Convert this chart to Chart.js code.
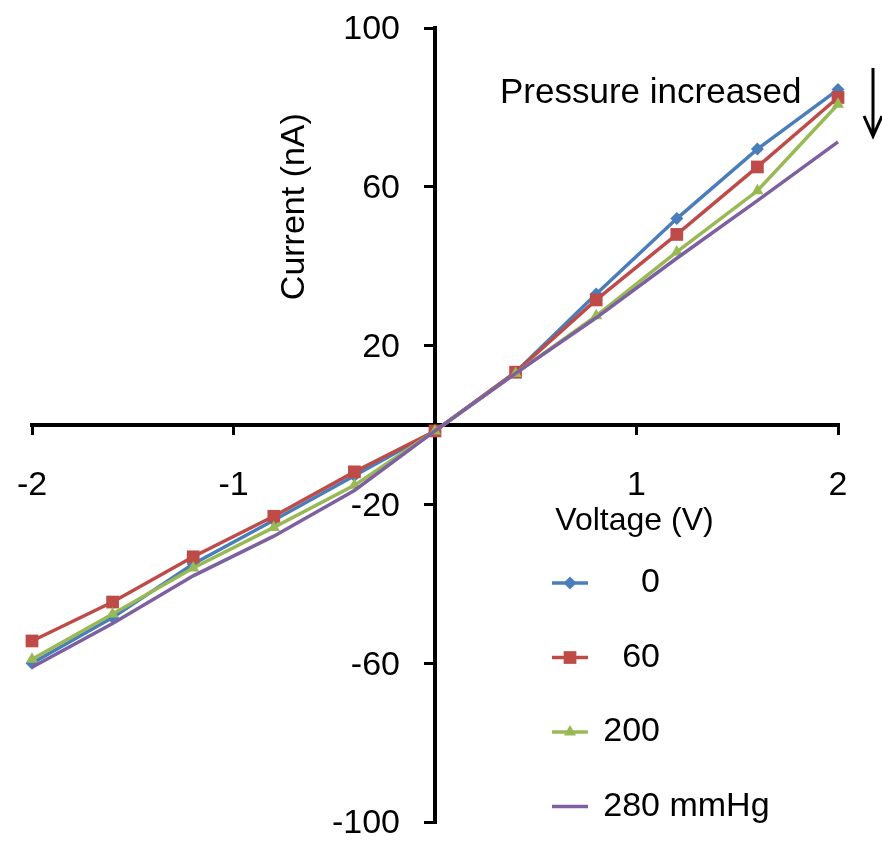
<!DOCTYPE html>
<html>
<head>
<meta charset="utf-8">
<script src="https://cdn.jsdelivr.net/npm/chart.js@4/dist/chart.umd.min.js"></script>
<style>
  html, body { margin: 0; padding: 0; background: #fff; }
  #wrap { width: 882px; height: 841px; }
</style>
</head>
<body>
<div id="wrap"><canvas id="ivChart"></canvas></div>
<script>
// voltage sweep (V) and measured current (nA) for each pressure
const voltages = [-2, -1.6, -1.2, -0.8, -0.4, 0, 0.4, 0.8, 1.2, 1.6, 2];
const current0 = [-60, -48.5, -35, -24, -12.8, -1.5, 13.3, 33, 52, 69.5, 84.5];
const current60 = [-54.4, -44.6, -33.2, -23, -11.8, -1.5, 13.3, 31.5, 48, 65, 82.5];
const current200 = [-59, -47.6, -36, -25.8, -15.2, -1.5, 13, 27.5, 43.6, 59, 80.8];
const current280 = [-61, -50, -38, -28, -16.5, -1.5, 13, 27, 42, 56.5, 71.3];

const seriesLabels = ['0', '60', '200', '280 mmHg'];
const xTitle = 'Voltage (V)';
const yTitle = 'Current (nA)';
const noteText = 'Pressure increased';

const FONT = "'Liberation Sans', Arial, sans-serif";

function toPoints(ys) {
    return voltages.map((v, i) => ({ x: v, y: ys[i] }));
}

const seriesStyles = [
    { color: '#4a7ebb', point: 'rectRot', radius: 6.5 },
    { color: '#be4b48', point: 'rect', radius: 9 },
    { color: '#98b954', point: 'triangle', radius: 7 },
    { color: '#7d60a0', point: 'circle', radius: 0 }
];

const allSeries = [current0, current60, current200, current280];

const datasets = allSeries.map((ys, i) => ({
    label: seriesLabels[i],
    data: toPoints(ys),
    borderColor: seriesStyles[i].color,
    backgroundColor: seriesStyles[i].color,
    pointStyle: seriesStyles[i].point,
    pointRadius: seriesStyles[i].radius,
    pointBorderWidth: 0,
    borderWidth: 3.5,
    tension: 0,
    clip: false,
    order: allSeries.length - i
}));

// the axes sit in the middle of the plot, so they should not push the chart area in
function noScalePadding(scale) {
    scale.paddingLeft = 0;
    scale.paddingRight = 0;
    scale.paddingTop = 0;
    scale.paddingBottom = 0;
}

// annotations: y tick labels, axis titles, legend, "pressure increased" arrow
const extrasPlugin = {
    id: 'extras',
    afterDraw(chart) {
        const ctx = chart.ctx;
        const xs = chart.scales.x;
        const ys = chart.scales.y;
        const x0 = xs.getPixelForValue(0);
        const y0 = ys.getPixelForValue(0);
        ctx.save();
        ctx.fillStyle = '#000';

        // y tick labels, to the left of the centred axis
        ctx.font = `34px ${FONT}`;
        ctx.textAlign = 'right';
        ctx.textBaseline = 'middle';
        ys.ticks.forEach(t => {
            ctx.fillText(String(t.value), x0 - 35, ys.getPixelForValue(t.value) + 2);
        });

        // x title
        ctx.font = `32px ${FONT}`;
        ctx.textAlign = 'center';
        ctx.fillText(xTitle, xs.getPixelForValue(0.99), y0 + 96);

        // y title (rotated)
        ctx.save();
        ctx.translate(x0 - 140, ys.getPixelForValue(55));
        ctx.rotate(-Math.PI / 2);
        ctx.font = `34px ${FONT}`;
        ctx.fillText(yTitle, 0, 0);
        ctx.restore();

        // note + arrow
        ctx.font = `35px ${FONT}`;
        ctx.textAlign = 'left';
        ctx.fillText(noteText, 500, 93);
        ctx.strokeStyle = '#000';
        ctx.lineWidth = 3;
        ctx.beginPath();
        ctx.moveTo(873, 68);
        ctx.lineTo(873, 135);
        ctx.moveTo(864, 116);
        ctx.lineTo(873, 136);
        ctx.lineTo(882, 116);
        ctx.stroke();

        // legend
        const rowTop = 583;
        const rowGap = 74.5;
        ctx.font = `34px ${FONT}`;
        chart.data.datasets.forEach((ds, i) => {
            const y = rowTop + i * rowGap;
            ctx.strokeStyle = ds.borderColor;
            ctx.lineWidth = 3.5;
            ctx.beginPath();
            ctx.moveTo(552, y);
            ctx.lineTo(588, y);
            ctx.stroke();
            if (ds.pointRadius > 0) {
                ctx.fillStyle = ds.backgroundColor;
                Chart.helpers.drawPoint(ctx, {
                    pointStyle: ds.pointStyle,
                    radius: ds.pointRadius,
                    borderWidth: 0
                }, 570, y);
            }
            ctx.fillStyle = '#000';
            const first = ds.label.split(' ')[0];
            const w = ctx.measureText(first).width;
            ctx.fillText(ds.label, 660 - w, y);
        });
        ctx.restore();
    }
};

new Chart(document.getElementById('ivChart'), {
    type: 'line',
    data: { datasets: datasets },
    options: {
        responsive: true,
        maintainAspectRatio: false,
        animation: false,
        layout: { padding: { left: 32, right: 44, top: 28, bottom: 19 } },
        plugins: {
            legend: { display: false },
            tooltip: { enabled: false }
        },
        scales: {
            x: {
                type: 'linear',
                position: { y: 0 },
                min: -2,
                max: 2,
                afterFit: noScalePadding,
                ticks: {
                    stepSize: 1,
                    autoSkip: false,
                    maxRotation: 0,
                    padding: 32,
                    color: '#000',
                    font: { size: 34, family: FONT },
                    callback: v => (v === 0 ? '' : v)
                },
                grid: { drawOnChartArea: false, drawTicks: true, tickLength: 8, color: '#000', lineWidth: 3 },
                border: { color: '#000', width: 4 }
            },
            y: {
                type: 'linear',
                position: { x: 0 },
                min: -100,
                max: 100,
                afterFit: noScalePadding,
                ticks: {
                    stepSize: 40,
                    autoSkip: false,
                    display: false
                },
                grid: { drawOnChartArea: false, drawTicks: true, tickLength: 9, color: '#000', lineWidth: 3 },
                border: { color: '#000', width: 4 }
            }
        }
    },
    plugins: [extrasPlugin]
});
</script>
</body>
</html>
